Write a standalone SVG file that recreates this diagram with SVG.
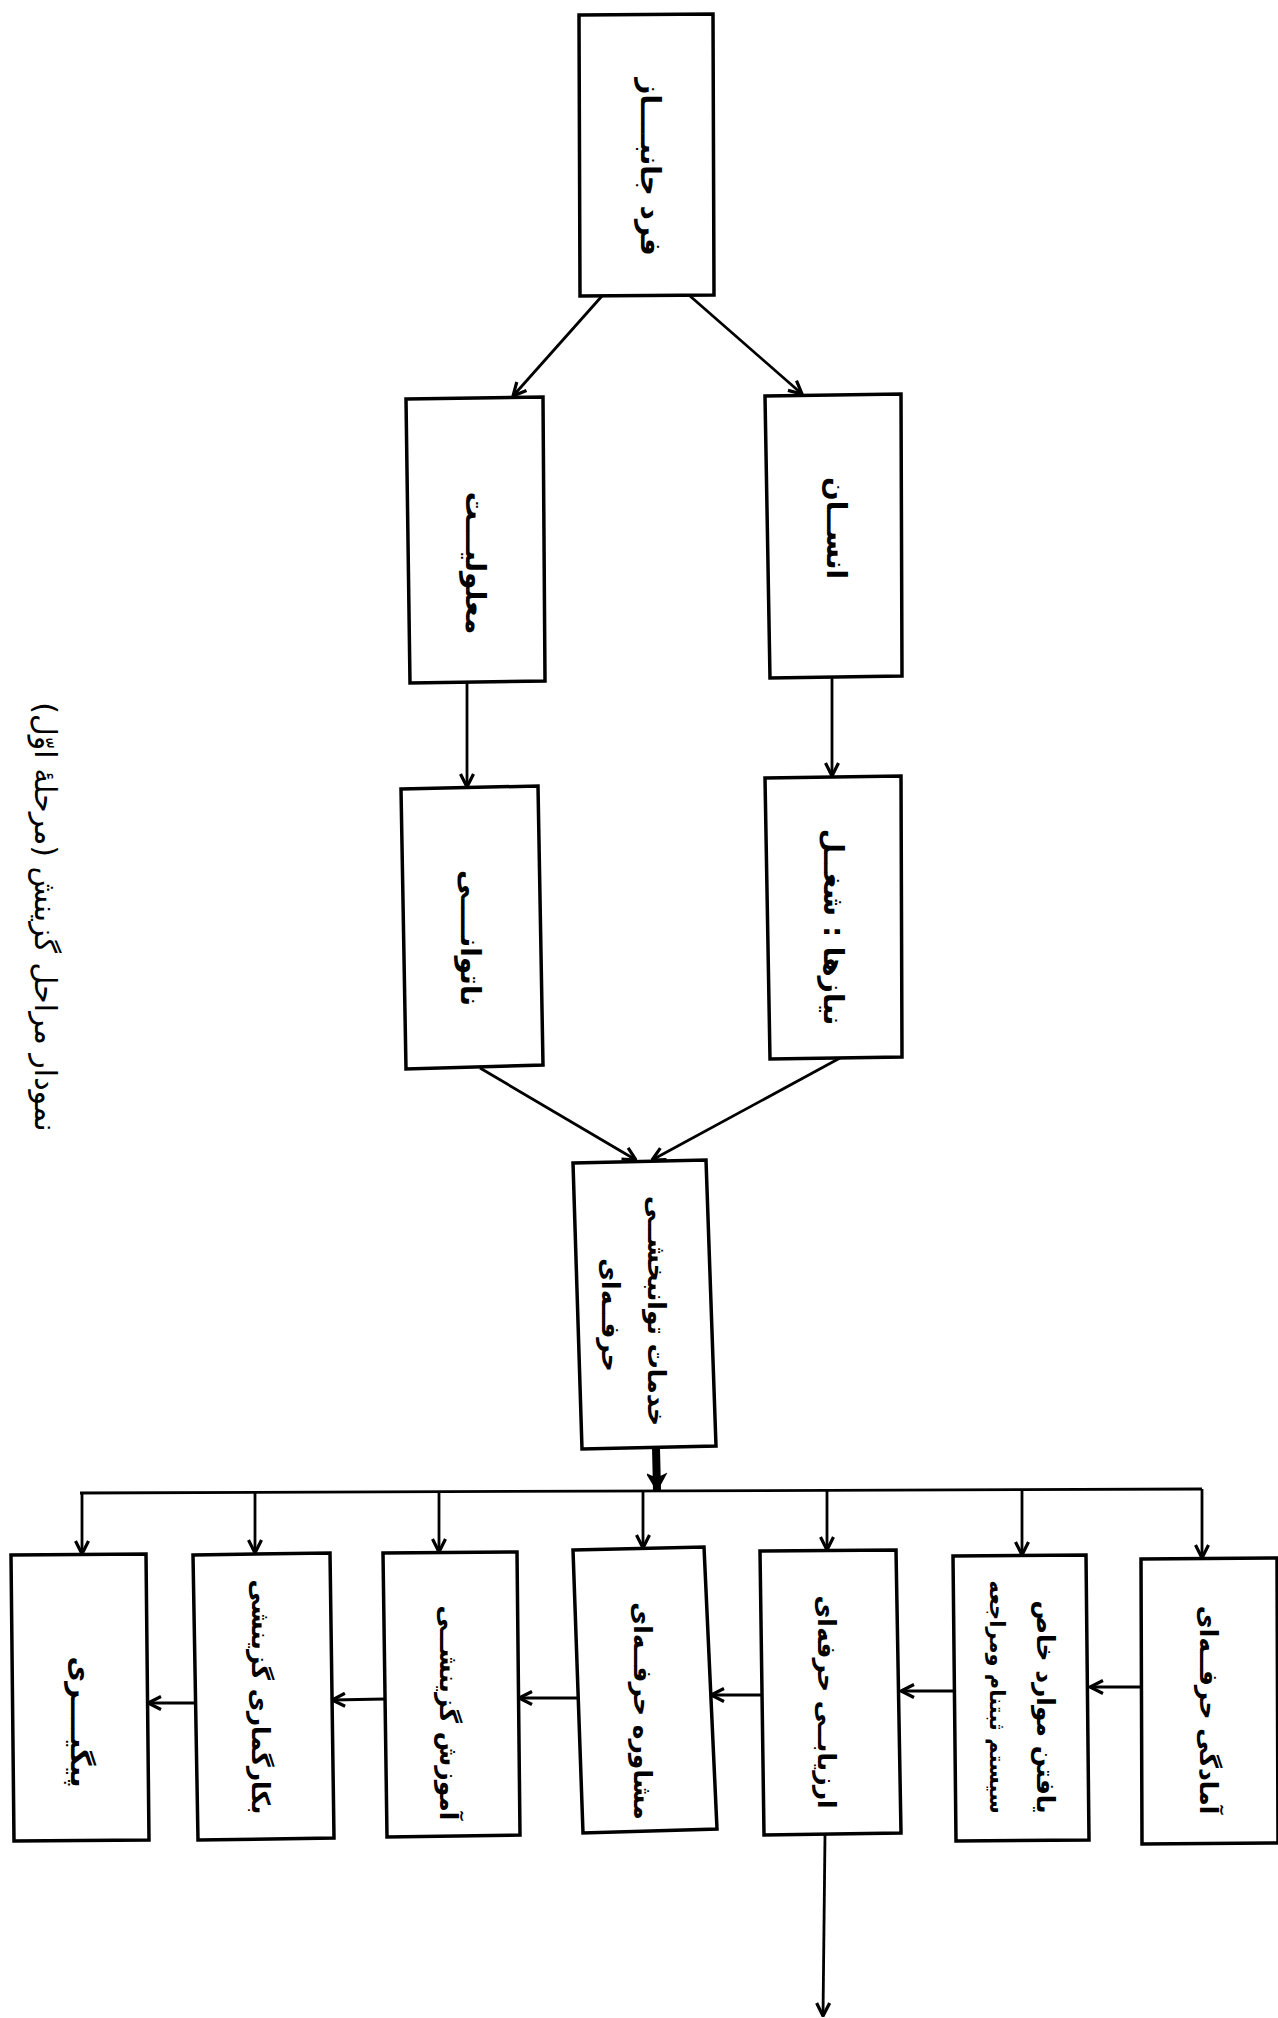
<svg xmlns="http://www.w3.org/2000/svg" width="1278" height="2018" viewBox="0 0 1278 2018">
<style>
.b{fill:#fff;stroke:#000;stroke-width:3.5;stroke-linejoin:miter}
.c{fill:none;stroke:#000;stroke-width:2.8}
.t{font-family:"DejaVu Sans",sans-serif;font-size:28px;font-weight:bold;fill:#000;text-anchor:middle;dominant-baseline:central;direction:rtl}
.m{font-size:25px}
.s{font-size:21px}
.h{font-family:"DejaVu Sans",sans-serif;font-size:30px;fill:#000;text-anchor:middle;dominant-baseline:central;direction:rtl}
</style>
<defs>
<marker id="a" viewBox="0 0 16 16" refX="15" refY="8" markerWidth="16" markerHeight="16" markerUnits="userSpaceOnUse" orient="auto">
<path d="M2,1.5 L15,8 L2,14.5" fill="none" stroke="#000" stroke-width="3.2"/>
</marker>
<marker id="k" viewBox="0 0 20 20" refX="18" refY="10" markerWidth="20" markerHeight="20" markerUnits="userSpaceOnUse" orient="auto">
<path d="M3,1.5 L18,10 L3,18.5 L7,10 Z" fill="#000" stroke="#000" stroke-width="2"/>
</marker>
</defs>
<rect width="1278" height="2018" fill="#fff"/>

<text class="h" transform="translate(45,917) rotate(90)">نمودار مراحل گزینش (مرحلهٔ اوّل)</text>

<g id="connectors">
<line class="c" x1="602" y1="296" x2="513" y2="396" marker-end="url(#a)"/>
<line class="c" x1="690" y1="296" x2="802" y2="394" marker-end="url(#a)"/>
<line class="c" x1="467" y1="682" x2="467" y2="787" marker-end="url(#a)"/>
<line class="c" x1="832" y1="677" x2="832" y2="776" marker-end="url(#a)"/>
<line class="c" x1="480" y1="1068" x2="636" y2="1160" marker-end="url(#a)"/>
<line class="c" x1="840" y1="1058" x2="652" y2="1160" marker-end="url(#a)"/>
<line x1="656" y1="1448" x2="657" y2="1490" stroke="#000" stroke-width="8" marker-end="url(#k)"/>
<line class="c" x1="80" y1="1493" x2="1202" y2="1489" stroke-width="3"/>
<line class="c" x1="82" y1="1493" x2="82" y2="1554" marker-end="url(#a)"/>
<line class="c" x1="255" y1="1493" x2="255" y2="1553" marker-end="url(#a)"/>
<line class="c" x1="439" y1="1492" x2="439" y2="1552" marker-end="url(#a)"/>
<line class="c" x1="643" y1="1491" x2="643" y2="1548" marker-end="url(#a)"/>
<line class="c" x1="827" y1="1491" x2="827" y2="1550" marker-end="url(#a)"/>
<line class="c" x1="1022" y1="1490" x2="1022" y2="1555" marker-end="url(#a)"/>
<line class="c" x1="1202" y1="1489" x2="1202" y2="1558" marker-end="url(#a)"/>
<line class="c" x1="1141" y1="1687" x2="1090" y2="1687" marker-end="url(#a)"/>
<line class="c" x1="955" y1="1691" x2="901" y2="1691" marker-end="url(#a)"/>
<line class="c" x1="762" y1="1695" x2="711" y2="1695" marker-end="url(#a)"/>
<line class="c" x1="578" y1="1698" x2="519" y2="1698" marker-end="url(#a)"/>
<line class="c" x1="385" y1="1699" x2="332" y2="1700" marker-end="url(#a)"/>
<line class="c" x1="195" y1="1703" x2="148" y2="1703" marker-end="url(#a)"/>
<line class="c" x1="825" y1="1835" x2="823" y2="2016" marker-end="url(#a)"/>
</g>

<g id="n1"><polygon class="b" points="579,15 713,14 714,295 580,296"/><text class="t" transform="translate(650,167) rotate(90)">فرد جانبــــاز</text></g>
<g id="n2"><polygon class="b" points="406,399 543,397 545,681 410,683"/><text class="t" transform="translate(475,563) rotate(90)">معلولیـــت</text></g>
<g id="n3"><polygon class="b" points="765,396 901,394 902,676 770,678"/><text class="t" transform="translate(836,528) rotate(90)">انســان</text></g>
<g id="n4"><polygon class="b" points="401,789 538,786 543,1065 406,1069"/><text class="t" transform="translate(470,938) rotate(90)">ناتوانــــی</text></g>
<g id="n5"><polygon class="b" points="765,778 901,776 902,1057 770,1059"/><text class="t" transform="translate(833,927) rotate(90)">نیازها : شغــل</text></g>
<g id="n6"><polygon class="b" points="573,1163 706,1160 716,1446 582,1449"/><text class="t m" transform="translate(656,1311) rotate(90)">خدمات توانبخشــی</text><text class="t m" transform="translate(610,1315) rotate(90)">حرفــه‌ای</text></g>
<g id="n7"><polygon class="b" points="11,1555 146,1554 149,1840 14,1841"/><text class="t" transform="translate(80,1722) rotate(90)">پیگیــــری</text></g>
<g id="n8"><polygon class="b" points="193,1555 330,1553 334,1838 198,1840"/><text class="t m" transform="translate(260,1697) rotate(90)">بکارگماری گزینشی</text></g>
<g id="n9"><polygon class="b" points="383,1553 517,1552 520,1835 387,1837"/><text class="t m" transform="translate(448,1713) rotate(90)">آموزش گزینشــی</text></g>
<g id="n10"><polygon class="b" points="573,1550 704,1547 717,1829 583,1833"/><text class="t m" transform="translate(642,1711) rotate(90)">مشاوره  حرفــه‌ای</text></g>
<g id="n11"><polygon class="b" points="760,1551 896,1550 901,1833 764,1835"/><text class="t m" transform="translate(826,1702) rotate(90)">ارزیابــی حرفه‌ای</text></g>
<g id="n12"><polygon class="b" points="953,1556 1086,1555 1089,1840 956,1841"/><text class="t m" transform="translate(1045,1707) rotate(90)">یافتن موارد خاص</text><text class="t s" transform="translate(997,1697) rotate(90)">سیستم ثبتنام ومراجعه</text></g>
<g id="n13"><polygon class="b" points="1141,1559 1277,1558 1278,1843 1142,1844"/><text class="t m" transform="translate(1208,1710) rotate(90)">آمادگی حرفــه‌ای</text></g>
</svg>
